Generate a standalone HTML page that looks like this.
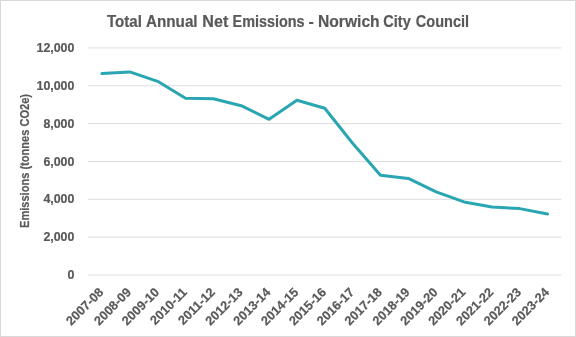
<!DOCTYPE html>
<html><head><meta charset="utf-8"><style>
html,body{margin:0;padding:0;background:#fff;}
svg{display:block;will-change:transform;}
text{font-family:"Liberation Sans",sans-serif;fill:#595959;stroke:#595959;stroke-width:0.2px;}
.ax{font-size:12.4px;font-weight:bold;}
.ti{font-size:16.5px;font-weight:bold;}
.xl{font-size:12.7px;font-weight:bold;}
.yt{font-size:12px;font-weight:bold;}
</style></head><body>
<svg width="576" height="337" viewBox="0 0 576 337">
<rect x="0.5" y="0.5" width="575" height="336" fill="#fff" stroke="#d9d9d9" stroke-width="1"/>
<line x1="88" y1="47.90" x2="561.5" y2="47.90" stroke="#dedede" stroke-width="1"/>
<line x1="88" y1="85.75" x2="561.5" y2="85.75" stroke="#dedede" stroke-width="1"/>
<line x1="88" y1="123.60" x2="561.5" y2="123.60" stroke="#dedede" stroke-width="1"/>
<line x1="88" y1="161.45" x2="561.5" y2="161.45" stroke="#dedede" stroke-width="1"/>
<line x1="88" y1="199.30" x2="561.5" y2="199.30" stroke="#dedede" stroke-width="1"/>
<line x1="88" y1="237.15" x2="561.5" y2="237.15" stroke="#dedede" stroke-width="1"/>
<line x1="88" y1="275.00" x2="561.5" y2="275.00" stroke="#dedede" stroke-width="1"/>
<text x="74.4" y="52.00" text-anchor="end" class="ax">12,000</text>
<text x="74.4" y="89.85" text-anchor="end" class="ax">10,000</text>
<text x="74.4" y="127.70" text-anchor="end" class="ax">8,000</text>
<text x="74.4" y="165.55" text-anchor="end" class="ax">6,000</text>
<text x="74.4" y="203.40" text-anchor="end" class="ax">4,000</text>
<text x="74.4" y="241.25" text-anchor="end" class="ax">2,000</text>
<text x="74.4" y="279.10" text-anchor="end" class="ax">0</text>
<text x="106.95" y="26.6" class="ti" textLength="34.98" lengthAdjust="spacingAndGlyphs">Total</text>
<text x="145.89" y="26.6" class="ti" textLength="51.74" lengthAdjust="spacingAndGlyphs">Annual</text>
<text x="202.33" y="26.6" class="ti" textLength="26.02" lengthAdjust="spacingAndGlyphs">Net</text>
<text x="232.54" y="26.6" class="ti" textLength="72.09" lengthAdjust="spacingAndGlyphs">Emissions</text>
<text x="308.62" y="26.6" class="ti" textLength="5.30" lengthAdjust="spacingAndGlyphs">-</text>
<text x="317.96" y="26.6" class="ti" textLength="61.69" lengthAdjust="spacingAndGlyphs">Norwich</text>
<text x="383.32" y="26.6" class="ti" textLength="27.42" lengthAdjust="spacingAndGlyphs">City</text>
<text x="415.82" y="26.6" class="ti" textLength="53.27" lengthAdjust="spacingAndGlyphs">Council</text>
<text transform="translate(29.2,228) rotate(-90)" x="0" y="0" class="yt" textLength="134" lengthAdjust="spacingAndGlyphs">Emissions (tonnes CO2e)</text>
<text transform="translate(104.23,293.0) rotate(-45)" x="0" y="0" text-anchor="end" class="xl">2007-08</text>
<text transform="translate(132.08,293.0) rotate(-45)" x="0" y="0" text-anchor="end" class="xl">2008-09</text>
<text transform="translate(159.93,293.0) rotate(-45)" x="0" y="0" text-anchor="end" class="xl">2009-10</text>
<text transform="translate(187.79,293.0) rotate(-45)" x="0" y="0" text-anchor="end" class="xl">2010-11</text>
<text transform="translate(215.64,293.0) rotate(-45)" x="0" y="0" text-anchor="end" class="xl">2011-12</text>
<text transform="translate(243.49,293.0) rotate(-45)" x="0" y="0" text-anchor="end" class="xl">2012-13</text>
<text transform="translate(271.34,293.0) rotate(-45)" x="0" y="0" text-anchor="end" class="xl">2013-14</text>
<text transform="translate(299.20,293.0) rotate(-45)" x="0" y="0" text-anchor="end" class="xl">2014-15</text>
<text transform="translate(327.05,293.0) rotate(-45)" x="0" y="0" text-anchor="end" class="xl">2015-16</text>
<text transform="translate(354.90,293.0) rotate(-45)" x="0" y="0" text-anchor="end" class="xl">2016-17</text>
<text transform="translate(382.76,293.0) rotate(-45)" x="0" y="0" text-anchor="end" class="xl">2017-18</text>
<text transform="translate(410.61,293.0) rotate(-45)" x="0" y="0" text-anchor="end" class="xl">2018-19</text>
<text transform="translate(438.46,293.0) rotate(-45)" x="0" y="0" text-anchor="end" class="xl">2019-20</text>
<text transform="translate(466.31,293.0) rotate(-45)" x="0" y="0" text-anchor="end" class="xl">2020-21</text>
<text transform="translate(494.17,293.0) rotate(-45)" x="0" y="0" text-anchor="end" class="xl">2021-22</text>
<text transform="translate(522.02,293.0) rotate(-45)" x="0" y="0" text-anchor="end" class="xl">2022-23</text>
<text transform="translate(549.87,293.0) rotate(-45)" x="0" y="0" text-anchor="end" class="xl">2023-24</text>
<polyline points="101.93,73.6 129.78,71.9 157.63,81.3 185.49,98.3 213.34,98.8 241.19,105.7 269.04,119.3 296.90,100.3 324.75,108.3 352.60,143.3 380.46,175.3 408.31,178.4 436.16,191.8 464.01,201.9 491.87,206.9 519.72,208.6 547.57,214.0" fill="none" stroke="#2aa5b2" stroke-width="3" stroke-linejoin="round" stroke-linecap="round"/>
</svg>
</body></html>
